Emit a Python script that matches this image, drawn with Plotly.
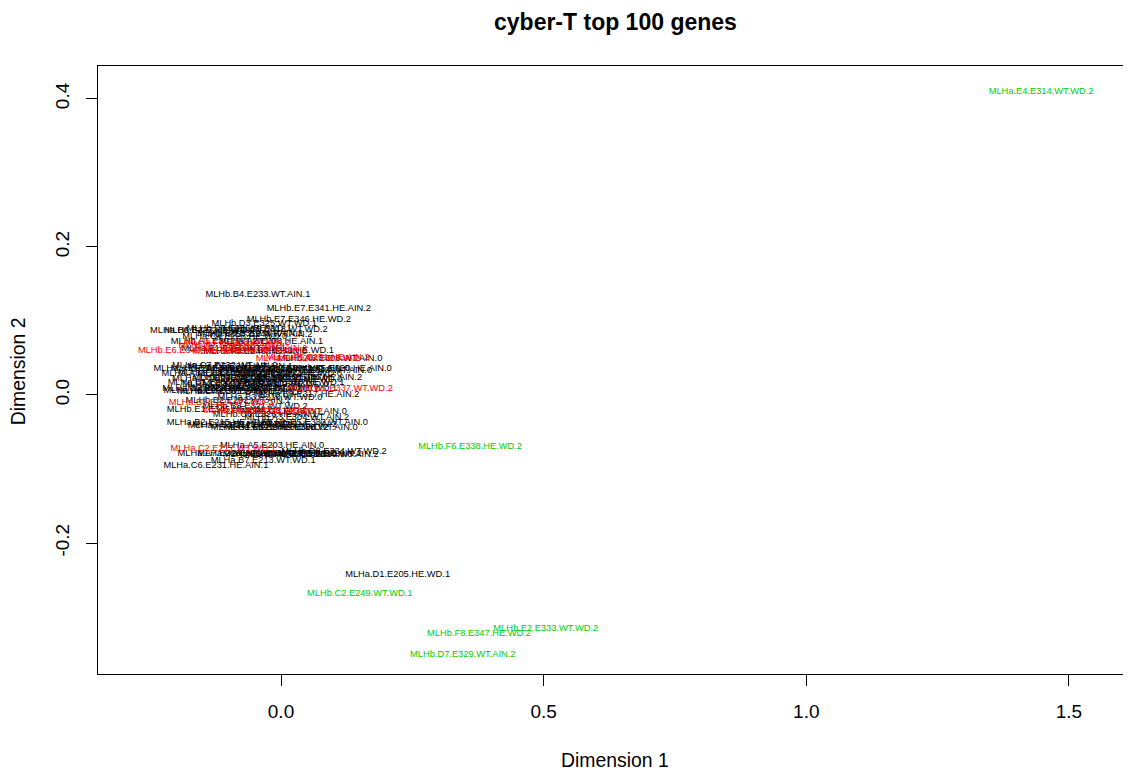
import plotly.graph_objects as go

# MDS coordinates (sample labels)
samples = [
    "MLHb.B4.E233.WT.AIN.1", "MLHb.E7.E341.HE.AIN.2", "MLHb.E7.E346.HE.WD.2", "MLHb.D3.E325.WT.WD.1",
    "MLHa.B6.E227.HE.WD.0", "MLHa.B4.E222.WT.AIN.0", "MLHb.C8.E319.WT.AIN.2", "MLHb.D6.E336.HE.WD.1",
    "MLHa.A2.E208.HE.AIN.1", "MLHb.A1.E301.WT.WD.0", "MLHa.F3.E248.HE.AIN.0", "MLHb.A6.E308.WT.AIN.0",
    "MLHb.F5.E020.HE.AIN.0", "MLHa.A1.E201.WT.WD.0", "MLHb.B1.E310.HE.WD.0", "MLHa.D5.E218.WT.AIN.1",
    "MLHb.C3.E323.HE.AIN.1", "MLHa.E1.E226.WT.WD.0", "MLHb.D2.E324.WT.AIN.0", "MLHb.E5.E316.HE.AIN.2",
    "MLHa.A3.E211.HE.WD.0", "MLHb.F1.E339.WT.AIN.0", "MLHa.C1.E219.HE.AIN.1", "MLHb.A4.E305.WT.WD.0",
    "MLHa.F2.E252.HE.WD.0", "MLHa.D4.E236.WT.AIN.0", "MLHb.B7.E315.HE.AIN.0", "MLHa.E2.E237.WT.AIN.1",
    "MLHb.C5.E328.HE.WD.1", "MLHa.B1.E206.WT.WD.1", "MLHb.D1.E327.HE.AIN.0", "MLHa.C8.E234.WT.AIN.0",
    "MLHb.A8.E312.HE.WD.0", "MLHa.D3.E229.HE.AIN.0", "MLHb.E4.E342.WT.AIN.1", "MLHa.F6.E256.WT.WD.0",
    "MLHb.F3.E344.HE.WD.1", "MLHa.A6.E209.WT.AIN.0", "MLHb.C7.E331.WT.WD.0", "MLHa.E8.E245.HE.AIN.0",
    "MLHb.E8.E317.HE.AIN.2", "MLHb.B2.E292.WT.AIN.1", "MLHb.E1.E345.HE.AIN.1", "MLHb.B8.E321.WT.WD.2",
    "MLHa.C3.E238.WT.AIN.0", "MLHb.A3.E304.WT.AIN.2", "MLHa.B2.E215.HE.AIN.0", "MLHb.D5.E332.WT.AIN.0",
    "MLHa.F5.E243.HE.WD.2", "MLHb.C1.E322.HE.AIN.0", "MLHa.E3.E241.WT.WD.0", "MLHb.F4.E335.HE.AIN.2",
    "MLHa.A5.E203.HE.AIN.0", "MLHa.A7.E216.WT.AIN.1", "MLHb.D8.E334.WT.WD.2", "MLHb.E3.E310.WT.AIN.2",
    "MLHa.D7.E242.HE.WD.1", "MLHb.A2.E303.HE.AIN.0", "MLHa.D2.E221.WT.WD.0", "MLHa.B7.E213.WT.WD.1",
    "MLHa.C6.E231.HE.AIN.1", "MLHa.D1.E205.HE.WD.1", "MLHa.C4.E228.HE.WD.0", "MLHb.B5.E318.WT.WD.2",
    "MLHa.F1.E250.WT.AIN.1", "MLHb.F2.E343.WT.AIN.0", "MLHa.E6.E247.HE.AIN.0", "MLHb.D4.E330.HE.WD.0",
    "MLHa.B3.E210.WT.WD.0", "MLHb.C6.E326.HE.AIN.1", "MLHa.A8.E212.HE.AIN.2", "MLHb.A5.E306.WT.AIN.0",
    "MLHa.F8.E255.HE.AIN.2", "MLHb.E5.E348.WT.WD.0", "MLHa.C7.E232.WT.AIN.0", "MLHb.B3.E311.HE.WD.1",
    "MLHa.E7.E244.WT.AIN.2",
    # red group
    "MLHb.E6.E340.HE.AIN.2", "MLHa.F7.E253.WT.AIN.2", "MLHb.F7.E345.HE.AIN.0", "MLHa.E7.E246.HE.AIN.2",
    "MLHb.C4.E320.HE.AIN.0", "MLHa.F4.E254.HE.AIN.2", "MLHa.F5.E251.HE.AIN.2", "MLHa.E5.E337.WT.WD.2",
    "MLHa.B8.E224.WT.WD.1", "MLHb.F4.E337.HE.WD.2", "MLHb.E2.E342.HE.WD.2", "MLHa.C2.E217.WT.WD.1",
    # green group
    "MLHa.E4.E314.WT.WD.2", "MLHb.F6.E338.HE.WD.2", "MLHb.C2.E249.WT.WD.1", "MLHb.E2.E333.WT.WD.2",
    "MLHb.F8.E347.HE.WD.2", "MLHb.D7.E329.WT.AIN.2",
]
dim1 = [
    -0.044, 0.072, 0.034, -0.032, -0.150, -0.122, -0.059, -0.080,
    -0.019, -0.110, -0.049, 0.093, 0.112, -0.143, -0.110, -0.078,
    -0.040, -0.002, 0.030, 0.055, -0.129, -0.097, -0.059, -0.021,
    0.017, -0.107, -0.069, -0.030, 0.021, -0.116, -0.088, -0.049,
    -0.008, -0.126, -0.078, -0.040, 0.008, -0.124, -0.097, -0.059,
    0.050, -0.082, -0.118, -0.049, 0.025, 0.030, -0.118, 0.065,
    -0.008, -0.034, -0.069, 0.008, -0.017, -0.097, 0.101, 0.086,
    0.008, 0.036, -0.059, -0.034, -0.124, 0.222, -0.088, -0.011,
    -0.090, 0.074, -0.011, 0.017, -0.021, -0.030, -0.078, 0.046,
    0.055, -0.011, -0.107, 0.002, -0.040,
    -0.173, -0.082, -0.097, -0.049, -0.069, 0.051, 0.070, 0.113,
    -0.114, -0.049, -0.020, -0.110,
    1.447, 0.360, 0.150, 0.504, 0.377, 0.346,
]
dim2 = [
    0.135, 0.116, 0.102, 0.096, 0.087, 0.087, 0.083, 0.090,
    0.072, 0.072, 0.059, 0.049, 0.036, 0.036, 0.036, 0.038,
    0.036, 0.034, 0.036, 0.023, 0.029, 0.030, 0.029, 0.030,
    0.029, 0.022, 0.023, 0.020, 0.016, 0.016, 0.014, 0.015,
    0.014, 0.009, 0.009, 0.008, 0.009, 0.006, 0.004, 0.004,
    0.000, -0.008, -0.020, -0.016, -0.023, -0.031, -0.038, -0.038,
    -0.044, -0.044, -0.040, -0.040, -0.068, -0.079, -0.077, -0.081,
    -0.079, -0.081, -0.079, -0.089, -0.095, -0.243, 0.079, 0.088,
    0.063, 0.033, 0.023, 0.020, -0.004, -0.027, -0.041, -0.044,
    -0.079, -0.081, 0.040, 0.060, 0.081,
    0.060, 0.071, 0.066, 0.063, 0.058, 0.049, 0.051, 0.009,
    -0.011, -0.021, -0.023, -0.072,
    0.410, -0.070, -0.268, -0.316, -0.323, -0.351,
]
group = [1] * 77 + [2] * 12 + [3] * 6
group_colors = {1: "#000000", 2: "#FF0000", 3: "#00CD00"}

x_ticks = [0.0, 0.5, 1.0, 1.5]
x_ticktext = ["0.0", "0.5", "1.0", "1.5"]
y_ticks = [-0.2, 0.0, 0.2, 0.4]
y_ticktext = ["-0.2", "0.0", "0.2", "0.4"]

FONT = "Liberation Sans, Arial, Helvetica, sans-serif"

fig = go.Figure()
for g in [1, 2, 3]:
    idx = [i for i, v in enumerate(group) if v == g]
    fig.add_trace(go.Scatter(
        x=[dim1[i] for i in idx],
        y=[dim2[i] for i in idx],
        text=[samples[i] for i in idx],
        mode="text",
        textposition="middle center",
        textfont=dict(family=FONT, size=9.3, color=group_colors[g]),
        showlegend=False,
        hoverinfo="text",
    ))

axis_common = dict(
    showline=True, linecolor="black", linewidth=1,
    ticks="outside", ticklen=11, tickwidth=1, tickcolor="black",
    showgrid=False, zeroline=False,
    tickfont=dict(family=FONT, size=19, color="black"),
)

fig.update_layout(
    width=1115, height=764,
    margin=dict(l=90, r=0, t=58, b=98),
    paper_bgcolor="white", plot_bgcolor="white",
    xaxis=dict(range=[-0.3484, 1.6029], tickvals=x_ticks, ticktext=x_ticktext,
               mirror=True, ticklabelstandoff=9, **axis_common),
    yaxis=dict(range=[-0.3768, 0.4443], tickvals=y_ticks, ticktext=y_ticktext,
               mirror=False, tickangle=-90, ticklabelstandoff=9, **axis_common),
    annotations=[
        dict(text="<b>cyber-T top 100 genes</b>", xref="paper", yref="paper", x=0.5044, y=1.0724,
             xanchor="center", yanchor="middle", showarrow=False,
             font=dict(family=FONT, size=23, color="black")),
        dict(text="Dimension 1", xref="paper", yref="paper", x=0.5044, y=-0.1414,
             xanchor="center", yanchor="middle", showarrow=False,
             font=dict(family=FONT, size=19.4, color="black")),
        dict(text="Dimension 2", xref="paper", yref="paper", x=-0.078, y=0.498,
             xanchor="center", yanchor="middle", showarrow=False, textangle=-90,
             font=dict(family=FONT, size=19.4, color="black")),
    ],
)

fig.write_html("out.html")
